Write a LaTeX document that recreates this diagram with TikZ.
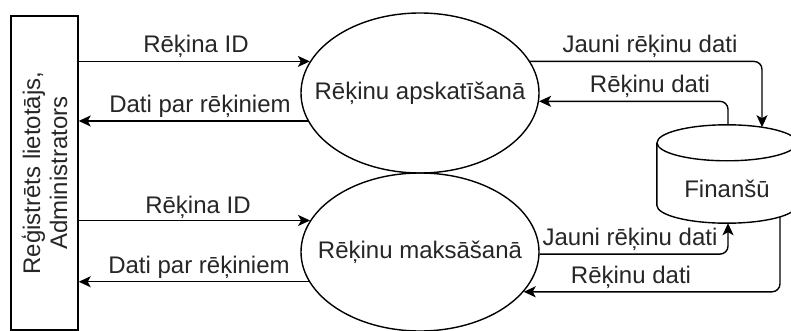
\documentclass[tikz,border=0pt]{standalone}
\usepackage{fontspec}
\setmainfont{Liberation Sans}
\usetikzlibrary{shapes.geometric,arrows.meta,calc}
\begin{document}
\begin{tikzpicture}[x=1pt,y=-1pt,
  every node/.style={font=\fontsize{24}{27}\selectfont, inner sep=0pt, text=black!85},
  proc/.style={ellipse, draw, line width=1.4pt, minimum width=238pt, minimum height=160pt},
  flow/.style={draw, line width=1.4pt, rounded corners=8pt,
    -{Stealth[length=12pt,width=11pt,inset=3pt]}},
  lbl/.style={anchor=base}
]
\useasboundingbox (0,0) rectangle (791,331);

% external entity
\node[draw, line width=1.4pt, minimum width=67pt, minimum height=314pt] (user) at (44.5,173) {};
\node[rotate=90, align=center] (usertext) at (44.5,173) {Reģistrēts lietotājs,\\Administrators};

% processes (outline and caption kept apart so the caption does not widen the ellipse)
\node[proc] (view) at (420,93) {};
\node (viewtext) at (view.center) {Rēķinu apskatīšanā};
\node[proc, minimum height=158pt] (pay) at (420,252) {};
\node (paytext) at (pay.center) {Rēķinu maksāšanā};

% data store (cylinder)
\node[minimum width=140pt, minimum height=62pt] (fin) at (727,174) {};
\draw[line width=1.4pt, fill=white] (fin.north) ellipse [x radius=70pt, y radius=18pt];
\draw[line width=1.4pt] (fin.north west) -- (fin.south west)
  arc[start angle=180, end angle=360, x radius=70pt, y radius=18pt] -- (fin.north east);
\node[lbl] (fintext) at (727,197) {Finanšū};

\coordinate (finInTop)  at ($(fin.north)+(35,-15.6)$);
\coordinate (finOutTop) at ($(fin.north)+(1,-18)$);
\coordinate (finInBot)  at ($(fin.south)+(1,18)$);
\coordinate (finOutBot) at ($(fin.south)+(53,11.8)$);

% flows between the user and the processes
\draw[flow] (user.east |- view.164) -- (view.164);
\draw[flow] (view.194) -- (view.194 -| user.east);
\draw[flow] (user.east |- pay.164) -- (pay.164);
\draw[flow] (pay.195) -- (pay.195 -| user.east);

% flows between the processes and the data store
\draw[flow] (view.16) -| (finInTop);
\draw[flow] (finOutTop) |- (view.-4);
\draw[flow] (pay.-1) -| (finInBot);
\draw[flow] (finOutBot) |- (pay.-21);

% flow labels
\node[lbl] (l1) at (196,53) {Rēķina ID};
\node[lbl] (l2) at (200,113) {Dati par rēķiniem};
\node[lbl] (l3) at (198,213) {Rēķina ID};
\node[lbl] (l4) at (199,273.5) {Dati par rēķiniem};
\node[lbl] (l5) at (650,53) {Jauni rēķinu dati};
\node[lbl] (l6) at (650,93) {Rēķinu dati};
\node[lbl] (l7) at (630,245) {Jauni rēķinu dati};
\node[lbl] (l8) at (631,283) {Rēķinu dati};
\end{tikzpicture}
\end{document}
